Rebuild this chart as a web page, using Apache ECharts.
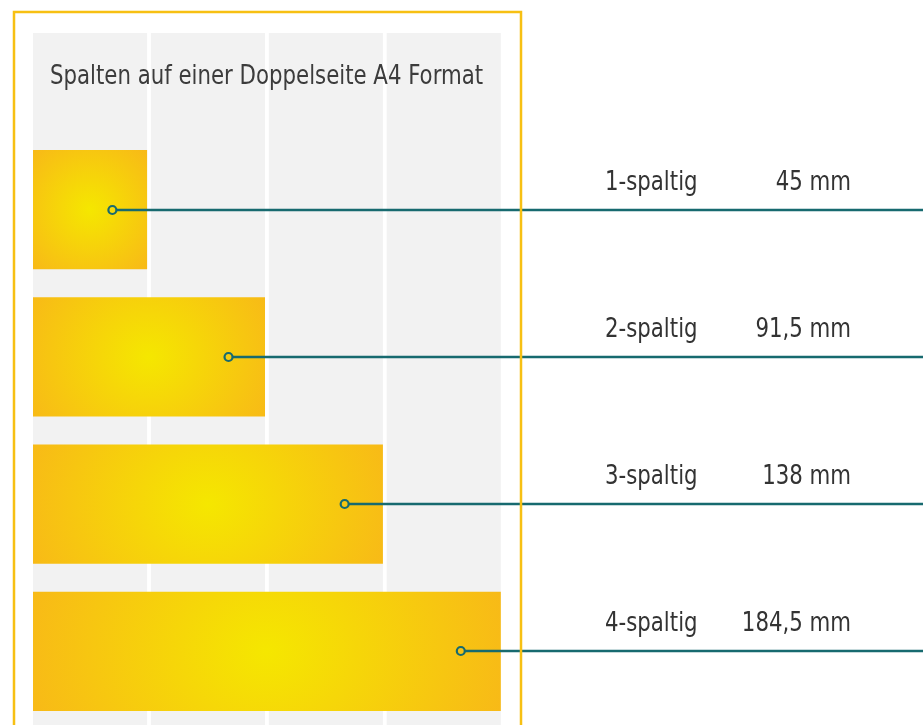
<!DOCTYPE html>
<html>
<head>
<meta charset="utf-8">
<title>Spalten auf einer Doppelseite A4 Format</title>
<script src="https://cdn.jsdelivr.net/npm/echarts@6/dist/echarts.min.js"></script>
<style>
  html, body { margin: 0; padding: 0; background: #fff; }
  #chart { width: 923px; height: 725px; }
</style>
</head>
<body>
<div id="chart"></div>
<script>
const categories = ['1-spaltig', '2-spaltig', '3-spaltig', '4-spaltig']
const widthsMm = [45, 91.5, 138, 184.5]
const valueLabels = ['45 mm', '91,5 mm', '138 mm', '184,5 mm']
const columnStarts = [0, 46.5, 93, 139.5]
const columnEnds = [45, 91.5, 138, 184.5]

const FONT = "'Liberation Sans Narrow', 'DejaVu Sans Condensed', sans-serif"
const NARROW = 0.91 // squeeze the condensed font a bit more
const TEAL = '#176a6f'
const TEXT = '#333333'

const chart = echarts.init(document.getElementById('chart'))

const barData = widthsMm.map((v, i) => [v, i])
const columnData = columnStarts.map((s, i) => [s, columnEnds[i]])

// yellow bars, elliptical radial fill
const renderBar = (params, api) => {
  const idx = api.value(1)
  const start = api.coord([0, idx])
  const end = api.coord([api.value(0), idx])
  const h = api.size([0, 1])[1] * 0.81
  const w = end[0] - start[0]
  const rx = 0.5 * w + 30
  const ry = 0.38 * w + 45
  const sx = rx / ry
  const lw = w / sx
  return {
    type: 'rect',
    x: start[0],
    y: start[1] - h / 2,
    scaleX: sx,
    shape: { x: 0, y: 0, width: lw, height: h },
    style: {
      fill: new echarts.graphic.RadialGradient(lw / 2, h / 2, ry, [
        { offset: 0, color: '#f5e700' },
        { offset: 1, color: '#f8b619' }
      ], true)
    }
  }
}

// leader line with ring marker and the two labels
const renderLeader = (params, api) => {
  const idx = api.value(1)
  const start = api.coord([0, idx])
  const end = api.coord([api.value(0), idx])
  const w = end[0] - start[0]
  const cx = end[0] - 33 - 0.015 * w
  const cy = Math.round(end[1])
  const rightEdge = params.coordSys.x + params.coordSys.width
  return {
    type: 'group',
    children: [
      {
        type: 'line',
        shape: { x1: cx + 4, y1: cy, x2: rightEdge, y2: cy },
        style: { stroke: TEAL, lineWidth: 2.4 }
      },
      {
        type: 'circle',
        shape: { cx: cx, cy: cy, r: 4 },
        style: { fill: 'none', stroke: TEAL, lineWidth: 2.2 }
      },
      {
        type: 'text',
        x: 605,
        y: cy - 27,
        scaleX: NARROW,
        style: {
          text: categories[idx],
          fill: TEXT,
          font: '26px ' + FONT,
          textAlign: 'left',
          textVerticalAlign: 'middle'
        }
      },
      {
        type: 'text',
        x: 851,
        y: cy - 27,
        scaleX: NARROW,
        style: {
          text: valueLabels[idx],
          fill: TEXT,
          font: '26px ' + FONT,
          textAlign: 'right',
          textVerticalAlign: 'middle'
        }
      }
    ]
  }
}

// grey page columns
const renderColumn = (params, api) => {
  const a = api.coord([api.value(0), 0])
  const b = api.coord([api.value(1), 0])
  const cs = params.coordSys
  return {
    type: 'rect',
    shape: { x: a[0], y: cs.y, width: b[0] - a[0], height: cs.height },
    style: { fill: '#f2f2f2' }
  }
}

const option = {
  animation: false,
  backgroundColor: '#ffffff',
  graphic: [
    {
      type: 'rect',
      z: 100,
      shape: { x: 14, y: 12, width: 507, height: 800 },
      style: { fill: 'none', stroke: '#f7c013', lineWidth: 2.5 }
    },
    {
      type: 'text',
      z: 100,
      x: 50,
      y: 77,
      scaleX: NARROW,
      style: {
        text: 'Spalten auf einer Doppelseite A4 Format',
        fill: '#3c3c3c',
        font: '26px ' + FONT,
        textAlign: 'left',
        textVerticalAlign: 'middle'
      }
    }
  ],
  grid: [
    { left: 33, right: 0, top: 136, height: 592 },
    { left: 33, right: 0, top: 33, bottom: 0 }
  ],
  xAxis: [
    { type: 'value', gridIndex: 0, min: 0, max: 351, show: false },
    { type: 'value', gridIndex: 1, min: 0, max: 351, show: false }
  ],
  yAxis: [
    { type: 'category', gridIndex: 0, data: categories, inverse: true, show: false },
    { type: 'value', gridIndex: 1, min: 0, max: 1, show: false }
  ],
  series: [
    {
      type: 'custom',
      name: 'Spalten',
      xAxisIndex: 1,
      yAxisIndex: 1,
      z: 1,
      renderItem: renderColumn,
      encode: { x: [0, 1] },
      data: columnData
    },
    {
      type: 'custom',
      name: 'Breite',
      xAxisIndex: 0,
      yAxisIndex: 0,
      z: 2,
      renderItem: renderBar,
      encode: { x: 0, y: 1 },
      data: barData
    },
    {
      type: 'custom',
      name: 'Beschriftung',
      xAxisIndex: 0,
      yAxisIndex: 0,
      z: 3,
      renderItem: renderLeader,
      encode: { x: 0, y: 1 },
      data: barData
    }
  ]
}

chart.setOption(option)
</script>
</body>
</html>
